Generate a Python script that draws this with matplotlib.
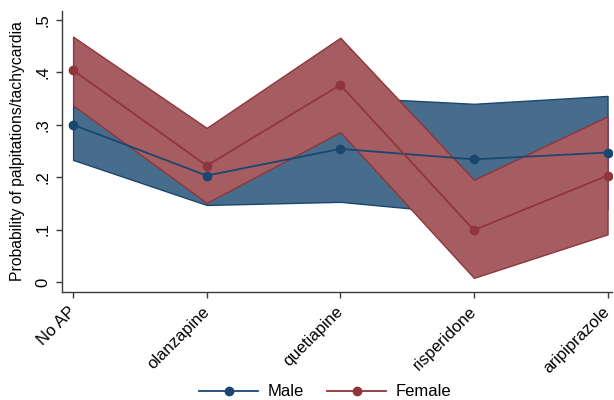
import matplotlib
matplotlib.use('Agg')
import matplotlib.pyplot as plt
from matplotlib.lines import Line2D

plt.rcParams['font.family'] = ['Liberation Sans', 'DejaVu Sans']

# ---------------------------------------------------------------------------
# Predicted probabilities with 95% CI, by antipsychotic and sex
# ---------------------------------------------------------------------------
drugs = ["No AP", "olanzapine", "quetiapine", "risperidone", "aripiprazole"]

male_est = [0.300, 0.203, 0.254, 0.234, 0.247]
male_lo = [0.233, 0.147, 0.153, 0.129, 0.139]
male_hi = [0.336, 0.259, 0.353, 0.340, 0.355]

female_est = [0.404, 0.222, 0.376, 0.099, 0.203]
female_lo = [0.337, 0.151, 0.286, 0.008, 0.091]
female_hi = [0.468, 0.294, 0.466, 0.195, 0.316]

yticks = [0, 0.1, 0.2, 0.3, 0.4, 0.5]
ytick_labels = ["0", ".1", ".2", ".3", ".4", ".5"]

NAVY = "#1a476f"
MAROON = "#90353b"
NAVY_FILL = "#486c8c"
MAROON_FILL = "#a55d61"
AXIS_GREY = "#3c3c3c"

fig = plt.figure(figsize=(6.14, 4.0), dpi=100)
ax = fig.add_axes([0.101, 0.27, 0.895, 0.7025])

x = list(range(len(drugs)))

# CI bands (opaque, female drawn over male)
ax.fill_between(x, male_lo, male_hi, facecolor=NAVY_FILL,
                edgecolor=NAVY, linewidth=1.0, zorder=1)
ax.fill_between(x, female_lo, female_hi, facecolor=MAROON_FILL,
                edgecolor=MAROON, linewidth=1.0, zorder=2)

# point estimates
ax.plot(x, male_est, color=NAVY, marker='o', markersize=6, linewidth=1.3, zorder=3)
ax.plot(x, female_est, color=MAROON, marker='o', markersize=6, linewidth=1.3, zorder=4)

ax.set_xlim(-0.083, 4.03)
ax.set_ylim(-0.019, 0.517)

ax.set_xticks(x)
ax.set_xticklabels(drugs, rotation=45, ha='right', va='center',
                   rotation_mode='anchor', fontsize=12)
ax.set_yticks(yticks)
ax.set_yticklabels(ytick_labels, rotation=90, va='center', fontsize=12)
ax.set_ylabel("Probability of palpitations/tachycardia", fontsize=11.3, labelpad=7)

for side in ['top', 'right']:
    ax.spines[side].set_visible(False)
for side in ['left', 'bottom']:
    ax.spines[side].set_color(AXIS_GREY)
    ax.spines[side].set_linewidth(1.0)
ax.tick_params(axis='both', direction='out', length=4.5, width=1.0,
               color=AXIS_GREY, labelcolor='black', pad=4)
ax.tick_params(axis='x', pad=8)

handles = [
    Line2D([], [], color=NAVY, marker='o', markersize=6, linewidth=1.3),
    Line2D([], [], color=MAROON, marker='o', markersize=6, linewidth=1.3),
]
fig.legend(handles, ["Male", "Female"], loc='center', bbox_to_anchor=(0.53, 0.02),
           ncol=2, frameon=False, fontsize=12, handlelength=3.5,
           columnspacing=1.4, handletextpad=0.6)

fig.savefig("out.png", dpi=100)
